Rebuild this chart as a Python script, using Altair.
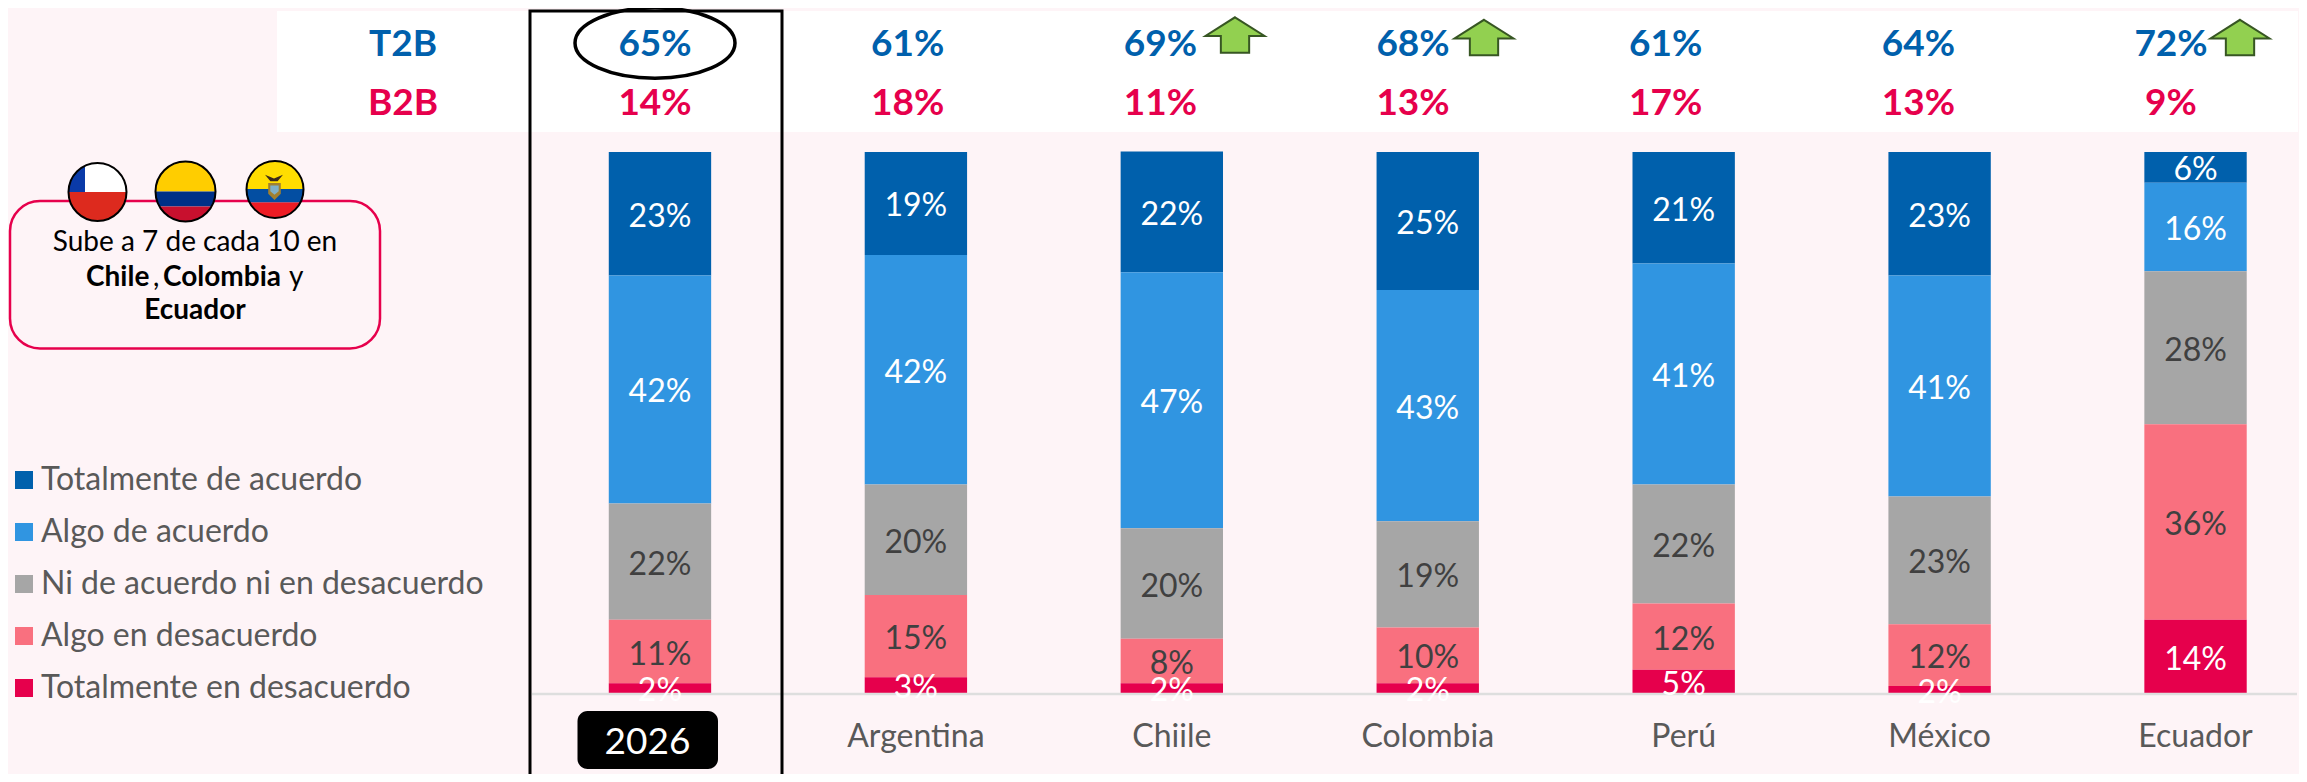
import math
import altair as alt
import pandas as pd

# ---------- data ----------
CATEGORIES = ["2026", "Argentina", "Chiile", "Colombia", "Perú", "México", "Ecuador"]
SERIES = ["Totalmente de acuerdo", "Algo de acuerdo", "Ni de acuerdo ni en desacuerdo",
          "Algo en desacuerdo", "Totalmente en desacuerdo"]
COLORS = ["#0060AC", "#3095E1", "#A6A6A6", "#F9707F", "#E6004C"]
LABEL_COLORS = ["#FFFFFF", "#FFFFFF", "#404040", "#404040", "#FFFFFF"]

TOTAL_ACUERDO = [22.8, 19.0, 22.3, 25.5, 20.6, 22.8, 5.7]
ALGO_ACUERDO = [42.1, 42.4, 47.3, 42.7, 40.8, 40.8, 16.3]
NI_NI = [21.5, 20.4, 20.4, 19.6, 22.0, 23.6, 28.3]
ALGO_DESACUERDO = [11.7, 15.2, 8.2, 10.3, 12.2, 11.4, 36.1]
TOTAL_DESACUERDO = [1.9, 3.0, 1.9, 1.9, 4.4, 1.4, 13.6]

LBL_TOTAL_ACUERDO = ["23%", "19%", "22%", "25%", "21%", "23%", "6%"]
LBL_ALGO_ACUERDO = ["42%", "42%", "47%", "43%", "41%", "41%", "16%"]
LBL_NI_NI = ["22%", "20%", "20%", "19%", "22%", "23%", "28%"]
LBL_ALGO_DESACUERDO = ["11%", "15%", "8%", "10%", "12%", "12%", "36%"]
LBL_TOTAL_DESACUERDO = ["2%", "3%", "2%", "2%", "5%", "2%", "14%"]

T2B = ["65%", "61%", "69%", "68%", "61%", "64%", "72%"]
B2B = ["14%", "18%", "11%", "13%", "17%", "13%", "9%"]

BG = "#FEF4F7"
BLUE = "#0060AC"
PINK = "#E6004C"
GREY_TEXT = "#595959"
FONT = "Lato"
OFF = 8  # page margin


def px(v):
    return alt.value(v - OFF)


one = pd.DataFrame({"k": [0]})
vals = [TOTAL_ACUERDO, ALGO_ACUERDO, NI_NI, ALGO_DESACUERDO, TOTAL_DESACUERDO]
lbls = [LBL_TOTAL_ACUERDO, LBL_ALGO_ACUERDO, LBL_NI_NI, LBL_ALGO_DESACUERDO, LBL_TOTAL_DESACUERDO]
rows = []
for si, s in enumerate(SERIES):
    for ci, c in enumerate(CATEGORIES):
        rows.append({"cat": c, "serie": s, "value": vals[si][ci], "label": lbls[si][ci],
                     "order": si, "lcolor": LABEL_COLORS[si]})
df = pd.DataFrame(rows)

band = alt.Scale(domain=CATEGORIES, range=[660 - 128 - OFF, 2195.5 + 128 - OFF], paddingInner=0.6, paddingOuter=0.3)
top_pts = alt.Scale(type="point", domain=CATEGORIES, range=[655 - OFF, 2171 - OFF], padding=0)
yscale = alt.Scale(domain=[0, 100], range=[693.5 - OFF, 152 - OFF], nice=False, zero=False)


def rect(x, x2, y, y2, **kw):
    return alt.Chart(one).mark_rect(**kw).encode(x=px(x), x2=px(x2), y=px(y), y2=px(y2))


def free_text(text, x, y, size=24, weight="normal", color="#000000", align="center"):
    return alt.Chart(pd.DataFrame({"t": [text]})).mark_text(
        font=FONT, fontSize=size, fontWeight=weight, color=color, align=align, baseline="middle"
    ).encode(x=px(x), y=px(y), text="t:N")


def shape(path, x, y, r, fill, stroke=None, sw=0):
    kw = dict(filled=True, fill=fill, opacity=1, shape=path, size=(2 * r) ** 2)
    if stroke:
        kw.update(stroke=stroke, strokeWidth=sw)
    else:
        kw.update(strokeWidth=0)
    return alt.Chart(one).mark_point(**kw).encode(x=px(x), y=px(y))


def cband(a, b):
    """Part of the unit circle between heights a and b."""
    xa = math.sqrt(max(0, 1 - a * a))
    xb = math.sqrt(max(0, 1 - b * b))
    return (f"M{-xa:.3f},{a} L{xa:.3f},{a} A1,1 0 0 1 {xb:.3f},{b} "
            f"L{-xb:.3f},{b} A1,1 0 0 1 {-xa:.3f},{a} Z")


CIRCLE = "M-1,0 A1,1 0 1 1 1,0 A1,1 0 1 1 -1,0 Z"


def flag(x, y, r, bands):
    return [shape(cband(a, b), x, y, r, c) for a, b, c in bands]


def ring(x, y, r):
    return alt.Chart(one).mark_point(filled=False, shape=CIRCLE, size=(2 * r) ** 2, stroke="#000000",
                                     strokeWidth=2, opacity=1).encode(x=px(x), y=px(y))


ARROW = "M0,-0.6 L1,0.03 L0.48,0.03 L0.48,0.6 L-0.48,0.6 L-0.48,0.03 L-1,0.03 Z"
ELLIPSE = "M-1,0 A1,0.44 0 1 1 1,0 A1,0.44 0 1 1 -1,0 Z"

layers = []
layers.append(rect(277, 2298, 11, 132, color="#FFFFFF"))

base = alt.Chart(df).transform_stack(
    stack="value", groupby=["cat"], as_=["y0", "y1"],
    sort=[alt.SortField("order", order="descending")], offset="zero"
).transform_calculate(mid="(datum.y0 + datum.y1) / 2")

bars = base.mark_bar(stroke=None).encode(
    x=alt.X("cat:N", scale=band, sort=CATEGORIES,
            axis=alt.Axis(title=None, domain=False, ticks=False, orient="bottom", offset=-(766 - 685),
                          labelExpr="datum.value == '2026' ? '' : datum.value",
                          labelFont=FONT, labelFontSize=32, labelFontWeight=400, labelColor=GREY_TEXT,
                          labelPadding=28, labelAngle=0, grid=False)),
    y=alt.Y("y0:Q", scale=yscale, axis=None),
    y2="y1:Q",
    color=alt.Color("serie:N", scale=alt.Scale(domain=SERIES, range=COLORS), sort=SERIES,
                    legend=alt.Legend(orient="none", legendX=0, legendY=464 - OFF, title=None,
                                      symbolType="square", symbolSize=324, symbolStrokeWidth=0,
                                      symbolOpacity=1, labelFont=FONT, labelFontSize=32,
                                      labelFontWeight=400, labelColor=GREY_TEXT, labelOffset=1,
                                      rowPadding=20, labelLimit=600)),
)
layers.append(bars)

baseline = alt.Chart(one).mark_rule(color="#DEDEDE", strokeWidth=2.5).encode(
    x=px(532), x2=px(2297), y=px(694))
layers.append(baseline)

seg_labels = base.mark_text(font=FONT, fontSize=32, fontWeight=400, baseline="middle", dy=3).encode(
    x=alt.X("cat:N", scale=band, sort=CATEGORIES, axis=None),
    y=alt.Y("mid:Q", scale=yscale, axis=None),
    text="label:N",
    color=alt.Color("lcolor:N", scale=None, legend=None),
)
layers.append(seg_labels)

top = pd.DataFrame({"cat": CATEGORIES, "t2b": T2B, "b2b": B2B})
for field, color, ypos in (("t2b", BLUE, 45), ("b2b", PINK, 104)):
    layers.append(alt.Chart(top).mark_text(font=FONT, fontSize=37, fontWeight="bold", color=color,
                                           baseline="middle").encode(
        x=alt.X("cat:N", scale=top_pts, sort=CATEGORIES, axis=None),
        y=px(ypos),
        text=f"{field}:N"))
layers.append(free_text("T2B", 403, 45, 37, "bold", BLUE))
layers.append(free_text("B2B", 403, 104, 37, "bold", PINK))

layers.append(rect(530, 782, 11, 790, fillOpacity=0, stroke="#000000", strokeWidth=3))
layers.append(shape(ELLIPSE, 655, 43, 80, "rgba(0,0,0,0)", "#000000", 3.5))

for ax, ay in ((1235, 35), (1484, 37.5), (2240, 37.5)):
    layers.append(shape(ARROW, ax, ay, 29.5, "#92D050", "#375623", 2))

layers.append(rect(577.5, 718, 711, 769, color="#000000", cornerRadius=10))
layers.append(free_text("2026", 647.5, 743, 37, "normal", "#FFFFFF"))

layers.append(rect(10, 380, 201, 348.5, fill=BG, stroke=PINK, strokeWidth=2.5, cornerRadius=30))
layers.append(free_text("Sube a 7 de cada 10 en", 195, 243, 28, "normal", "#000000"))
layers.append(free_text("Chile", 86, 278, 28, "bold", "#000000", "left"))
layers.append(free_text(",", 153, 278, 28, "normal", "#000000", "left"))
layers.append(free_text("Colombia", 163, 278, 28, "bold", "#000000", "left"))
layers.append(free_text("y", 289, 278, 28, "normal", "#000000", "left"))
layers.append(free_text("Ecuador", 195, 311, 28, "bold", "#000000"))

FX = [(97.5, 192, 29), (185.5, 191.5, 30), (275, 189.5, 28.5)]
x, y, r = FX[0]
layers += flag(x, y, r, [(-1, 0, "#FFFFFF"), (0, 1, "#DD2A1E")])
layers.append(shape("M-0.43,0 L-1,0 A1,1 0 0 1 -0.43,-0.903 Z", x, y, r, "#0A3AA8"))
layers.append(ring(x, y, r))
x, y, r = FX[1]
layers += flag(x, y, r, [(-1, 0, "#FFCD00"), (0, 0.5, "#003087"), (0.5, 1, "#C8102E")])
layers.append(ring(x, y, r))
x, y, r = FX[2]
layers += flag(x, y, r, [(-1, -0.02, "#FFDD00"), (-0.02, 0.46, "#034EA2"), (0.46, 1, "#ED1C24")])
layers.append(shape("M-1,-0.35 L0,0.05 L1,-0.35 L0.4,0.35 L-0.4,0.35 Z", 274, 178, 9, "#3A2A1A"))
layers.append(shape("M-0.7,-0.9 L0.7,-0.9 L0.7,0.3 L0,1 L-0.7,0.3 Z", 274.5, 191, 9, "#A08030"))
layers.append(shape("M-0.6,-0.7 L0.6,-0.7 L0.6,0.1 L0,0.6 L-0.6,0.1 Z", 274.5, 190.5, 7, "#7FB0C8"))
layers.append(ring(x, y, r))

chart = alt.layer(*layers).resolve_scale(x="independent").properties(
    width=2291, height=766, background=BG, padding=0,
    autosize=alt.AutoSizeParams(type="none"),
).configure_view(stroke=None)

chart.save("out.html", embed_options={"renderer": "svg", "actions": False})
